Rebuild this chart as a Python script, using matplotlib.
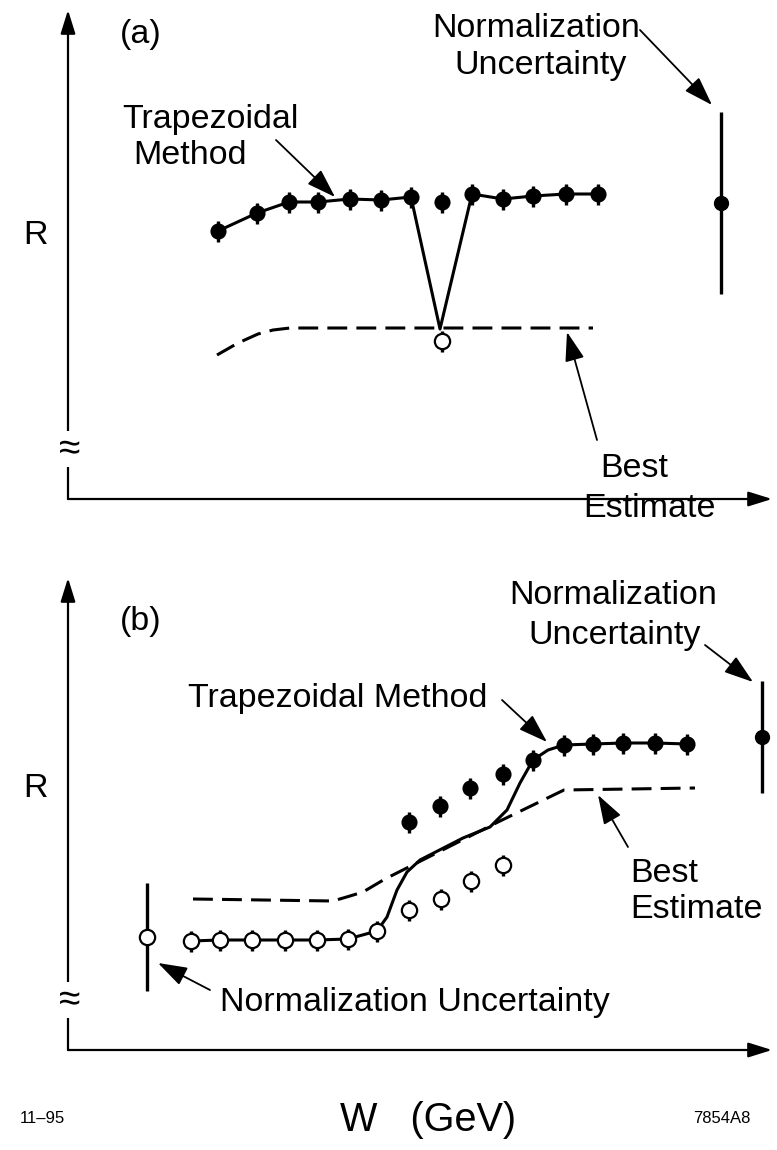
import matplotlib.pyplot as plt

plt.rcParams['font.family'] = ['Liberation Sans', 'DejaVu Sans']

# ---- panel (a): W positions and R values (arbitrary units) ----
a_w = [150, 189, 221, 250, 282, 313, 343, 374, 404, 435, 465, 498, 530]
a_r = [268, 286, 297, 297, 300, 299, 302, 297, 305, 300, 303, 305, 305]
a_open_w = [374]
a_open_r = [158]
# trapezoidal curve: dips down to the best-estimate level at the open point
a_trap_w = [150, 189, 221, 250, 282, 313, 343, 372, 404, 435, 465, 498, 530]
a_trap_r = [268, 286, 297, 297, 300, 299, 302, 170, 305, 300, 303, 305, 305]
a_best_w = [149, 170, 190, 205, 222, 525]
a_best_r = [144, 156, 165, 169, 171, 171]
a_norm_w, a_norm_r, a_norm_err = 653, 296, 91

# ---- panel (b) ----
b_open_w = [123, 152, 184, 217, 249, 280, 309, 341, 373, 403, 435]
b_open_r = [109, 110, 110, 110, 110, 111, 119, 140, 151, 169, 185]
b_fill_w = [341, 372, 402, 435, 465, 496, 525, 555, 587, 619]
b_fill_r = [228, 244, 262, 276, 290, 305, 306, 307, 307, 306]
b_trap_w = [123, 152, 184, 217, 249, 280, 309, 319, 329, 339, 352, 395, 422,
            439, 452, 465, 480, 496, 525, 555, 587, 619]
b_trap_r = [109, 110, 110, 110, 110, 111, 119, 133, 160, 178, 190, 212, 223,
            240, 267, 290, 300, 305, 306, 307, 307, 306]
b_best_w = [125, 265, 282, 295, 317, 430, 496, 627]
b_best_r = [151, 149, 154, 158, 171, 228, 260, 262]
b_norm_left = (79, 113, 54)
b_norm_right = (694, 313, 56)

point_err = 10.5

fig = plt.figure(figsize=(7.77, 11.5), dpi=100)
ax_a = fig.add_axes([68 / 777, 651 / 1150, 709 / 777, 499 / 1150])
ax_b = fig.add_axes([68 / 777, 100 / 1150, 709 / 777, 490 / 1150])
ax_a.set_xlim(0, 709)
ax_a.set_ylim(0, 499)
ax_b.set_xlim(0, 709)
ax_b.set_ylim(0, 490)

FS = 24.5
arrow_kw = dict(arrowstyle='-|>,head_length=0.9,head_width=0.3', lw=1.3,
                color='k', shrinkA=0, shrinkB=0, mutation_scale=20)
axis_kw = dict(arrowstyle='-|>,head_length=0.8,head_width=0.25', lw=1.6,
               color='k', shrinkA=0, shrinkB=0, mutation_scale=18)


def draw_axes(ax, ytop):
    ax.set_axis_off()
    ax.annotate('', xy=(0, ytop), xytext=(0, 0), arrowprops=axis_kw)
    ax.annotate('', xy=(704, 0), xytext=(0, 0), arrowprops=axis_kw)
    ax.text(2, 50, '≈', fontsize=28, ha='center', va='center',
            bbox=dict(fc='white', ec='none', pad=0.2))


def points(ax, w, r, err, filled=True, ms=10):
    ax.errorbar(w, r, yerr=err, fmt='o', ms=ms, mfc='k' if filled else 'white',
                mec='k', mew=1.6, ecolor='k', elinewidth=2.4, capsize=0,
                zorder=4, clip_on=False)


def note(ax, tail, tip):
    ax.annotate('', xy=tip, xytext=tail, arrowprops=arrow_kw)


# panel (a)
draw_axes(ax_a, 489)
ax_a.plot(a_best_w, a_best_r, color='k', lw=2.2, dashes=(6.5, 3), zorder=2)
ax_a.plot(a_trap_w, a_trap_r, color='k', lw=2.2, zorder=3)
points(ax_a, a_w, a_r, point_err)
points(ax_a, a_open_w, a_open_r, point_err, filled=False, ms=11)
ax_a.errorbar([a_norm_w], [a_norm_r], yerr=a_norm_err, fmt='o', ms=10, color='k',
              elinewidth=2.4, capsize=0, zorder=4)

ax_a.text(52, 456, '(a)', fontsize=FS)
ax_a.text(-32, 255, 'R', fontsize=FS, ha='center')
ax_a.text(468, 462, 'Normalization', fontsize=FS, ha='center')
ax_a.text(473, 425, 'Uncertainty', fontsize=FS, ha='center')
note(ax_a, (572, 469), (644, 394))
ax_a.text(54, 371, 'Trapezoidal', fontsize=FS)
ax_a.text(122, 335, 'Method', fontsize=FS, ha='center')
note(ax_a, (208, 359), (267, 302))
ax_a.text(532, 22, 'Best', fontsize=FS)
ax_a.text(515, -18, 'Estimate', fontsize=FS)
note(ax_a, (529, 59), (499, 167))

# panel (b)
draw_axes(ax_b, 472)
ax_b.plot(b_best_w, b_best_r, color='k', lw=2.2, dashes=(6.5, 3), zorder=2)
ax_b.plot(b_trap_w, b_trap_r, color='k', lw=2.2, zorder=3)
points(ax_b, b_fill_w, b_fill_r, point_err)
points(ax_b, b_open_w, b_open_r, point_err, filled=False, ms=11)
w, r, e = b_norm_left
ax_b.errorbar([w], [r], yerr=e, fmt='o', ms=11, mfc='white', mec='k', mew=1.6,
              ecolor='k', elinewidth=2.4, capsize=0, zorder=4)
w, r, e = b_norm_right
ax_b.errorbar([w], [r], yerr=e, fmt='o', ms=10, color='k',
              elinewidth=2.4, capsize=0, zorder=4)

ax_b.text(52, 420, '(b)', fontsize=FS)
ax_b.text(-32, 253, 'R', fontsize=FS, ha='center')
ax_b.text(545, 446, 'Normalization', fontsize=FS, ha='center')
ax_b.text(547, 406, 'Uncertainty', fontsize=FS, ha='center')
note(ax_b, (637, 405), (685, 368))
ax_b.text(120, 343, 'Trapezoidal Method', fontsize=FS)
note(ax_b, (434, 350), (479, 308))
ax_b.text(562, 168, 'Best', fontsize=FS)
ax_b.text(562, 132, 'Estimate', fontsize=FS)
note(ax_b, (560, 203), (530, 255))
ax_b.text(152, 39, 'Normalization Uncertainty', fontsize=FS)
note(ax_b, (142, 60), (90, 87))

ax_b.text(360, -81, 'W   (GeV)', fontsize=28.5, ha='center')
ax_b.text(-48, -73, '11–95', fontsize=12)
ax_b.text(682, -73, '7854A8', fontsize=12, ha='right')

fig.savefig('out.png', dpi=100)
